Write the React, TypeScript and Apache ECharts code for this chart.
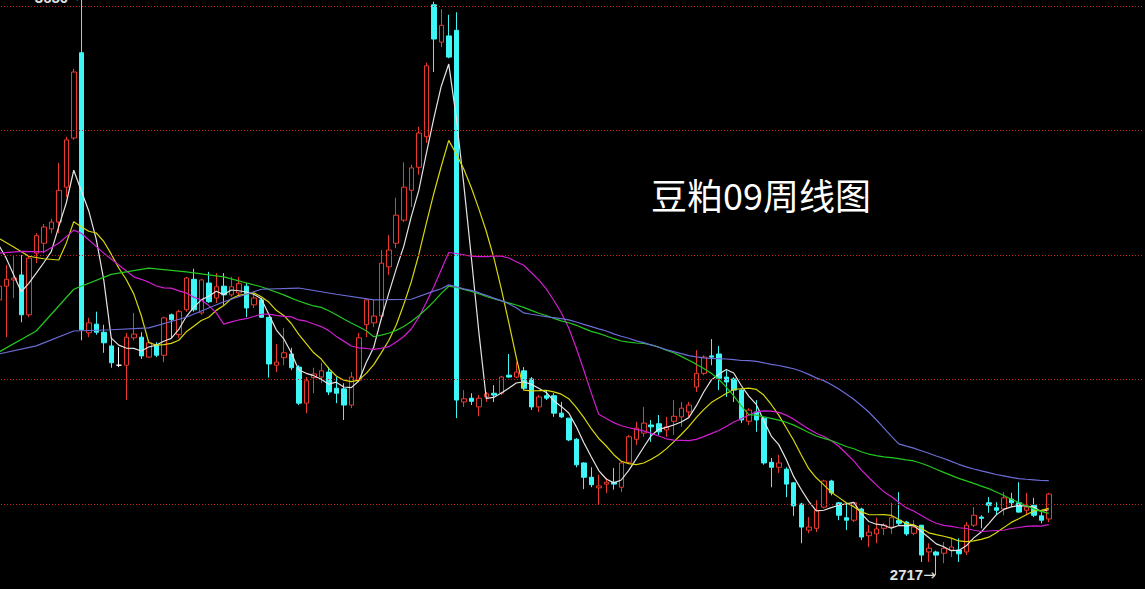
import React, { useEffect, useRef } from 'react';
import * as echarts from 'echarts';

// Weekly OHLC of the 豆粕09 chart (oldest → newest)
const opens = [
  3159, 3181, 3191, 3199, 3135, 3234, 3250, 3273, 3284, 3340, 3419, 3556, 3106, 3120, 3107, 3085, 3054, 3054, 3098, 3099,
  3067, 3087, 3070, 3135, 3103, 3143, 3192, 3138, 3186, 3162, 3181, 3167, 3170, 3181, 3151, 3159, 3131, 3054, 3066, 3072,
  3051, 2993, 3034, 3035, 3043, 3017, 3016, 2990, 3030, 3119, 3122, 3133, 3212, 3250, 3287, 3335, 3372, 3421, 3633, 3573,
  3583, 3592, 2995, 3001, 2987, 3003, 3009, 3009, 3038, 3035, 3045, 3032, 2987, 3005, 3005, 2977, 2969, 2935, 2897, 2874,
  2857, 2863, 2866, 2858, 2898, 2935, 2945, 2958, 2960, 2950, 2964, 2971, 2979, 3019, 3041, 3069, 3072, 3035, 3032, 3014,
  2964, 2979, 2969, 2898, 2890, 2887, 2865, 2831, 2789, 2792, 2826, 2868, 2833, 2809, 2805, 2823, 2780, 2783, 2792, 2794,
  2805, 2802, 2784, 2797, 2754, 2754, 2752, 2757, 2757, 2754, 2797, 2810, 2833, 2825, 2823, 2839, 2833, 2821, 2829, 2812,
  2807,
];
const closes = [
  3181, 3192, 3194, 3135, 3226, 3262, 3276, 3284, 3335, 3416, 3525, 3111, 3122, 3107, 3090, 3058, 3054, 3099, 3104, 3069,
  3090, 3070, 3130, 3127, 3140, 3194, 3143, 3191, 3156, 3180, 3167, 3180, 3185, 3146, 3162, 3131, 3056, 3059, 3074, 3050,
  2993, 3029, 3040, 3045, 3011, 3009, 2990, 3035, 3098, 3159, 3133, 3218, 3239, 3295, 3340, 3371, 3427, 3535, 3578, 3600,
  3549, 2998, 3000, 2996, 3001, 3008, 3006, 3035, 3035, 3043, 3017, 2987, 3003, 3001, 2977, 2971, 2934, 2894, 2874, 2862,
  2860, 2866, 2863, 2897, 2939, 2953, 2961, 2955, 2947, 2955, 2972, 2985, 2990, 3041, 3067, 3067, 3033, 3027, 3014, 2966,
  2982, 2966, 2897, 2890, 2897, 2863, 2828, 2794, 2794, 2821, 2868, 2849, 2813, 2805, 2833, 2778, 2786, 2791, 2797, 2809,
  2800, 2783, 2794, 2749, 2760, 2749, 2760, 2762, 2751, 2797, 2813, 2808, 2829, 2821, 2841, 2833, 2818, 2826, 2813, 2805,
  2847,
];
const lows = [
  3154, 3099, 3162, 3123, 3131, 3218, 3234, 3266, 3266, 3324, 3416, 3094, 3099, 3103, 3074, 3050, 3051, 2998, 3094, 3064,
  3066, 3067, 3059, 3098, 3098, 3140, 3140, 3135, 3154, 3154, 3151, 3164, 3164, 3131, 3146, 3130, 3034, 3043, 3054, 3046,
  2990, 2977, 3009, 3025, 3006, 2993, 2966, 2985, 3027, 3099, 3115, 3127, 3199, 3242, 3284, 3308, 3360, 3411, 3525, 3565,
  3547, 2969, 2987, 2990, 2972, 2995, 2995, 3006, 3034, 3033, 3014, 2982, 2979, 2998, 2971, 2969, 2932, 2890, 2855, 2858,
  2830, 2849, 2854, 2850, 2897, 2926, 2939, 2931, 2942, 2939, 2942, 2955, 2971, 3011, 3038, 3054, 3014, 3003, 2995, 2961,
  2958, 2947, 2894, 2858, 2881, 2842, 2812, 2768, 2784, 2786, 2824, 2845, 2805, 2789, 2802, 2773, 2762, 2768, 2781, 2783,
  2797, 2780, 2781, 2738, 2738, 2717, 2736, 2746, 2738, 2749, 2794, 2792, 2817, 2813, 2813, 2826, 2817, 2813, 2810, 2800,
  2802,
];
const highs = [
  3186, 3215, 3231, 3231, 3231, 3266, 3281, 3289, 3379, 3421, 3530, 3650, 3130, 3140, 3119, 3099, 3083, 3106, 3138, 3107,
  3094, 3091, 3132, 3137, 3143, 3196, 3209, 3193, 3204, 3202, 3202, 3196, 3196, 3186, 3170, 3162, 3131, 3088, 3114, 3082,
  3054, 3035, 3050, 3058, 3051, 3035, 3025, 3043, 3106, 3160, 3159, 3239, 3263, 3323, 3380, 3376, 3437, 3540, 3638, 3626,
  3617, 3621, 3014, 3009, 3006, 3011, 3022, 3037, 3072, 3059, 3051, 3035, 3006, 3014, 3009, 2995, 2969, 2937, 2898, 2890,
  2878, 2873, 2889, 2898, 2942, 2963, 2987, 2966, 2974, 2971, 2998, 2995, 2995, 3078, 3070, 3096, 3085, 3046, 3035, 3017,
  2985, 2998, 2971, 2905, 2910, 2890, 2866, 2833, 2810, 2837, 2870, 2870, 2834, 2833, 2834, 2825, 2797, 2809, 2800, 2833,
  2850, 2804, 2805, 2797, 2768, 2756, 2770, 2776, 2776, 2802, 2826, 2813, 2842, 2834, 2850, 2849, 2866, 2849, 2841, 2818,
  2849,
];
const weeks = closes.map((_, i) => `W${i + 1}`);

// Moving-average values before each window is complete: [weekIndex, value]
const ma5Lead: [number, number][] = [[0, 3247], [1, 3226], [2, 3199], [3, 3172]];
const ma10Lead: [number, number][] = [[0, 3258], [2, 3244], [4, 3229], [6, 3225], [8, 3223]];
const ma20Lead: [number, number][] = [
  [0, 3234], [3, 3237], [6, 3236], [8, 3250], [10, 3271], [11, 3266], [14, 3234], [16, 3215], [18, 3196],
];
const ma40Lead: [number, number][] = [
  [0, 3075], [5, 3109], [10, 3176], [15, 3200], [20, 3210], [25, 3204], [30, 3196], [35, 3180], [38, 3167],
];
const ma60Lead: [number, number][] = [
  [0, 3072], [5, 3085], [10, 3109], [15, 3111], [20, 3114], [25, 3131], [30, 3156], [35, 3176], [40, 3178],
  [45, 3168], [50, 3159], [55, 3160], [58, 3173],
];

// Dotted reference levels and chart title
const gridLevels = [2831, 3031, 3231, 3431, 3631];
const titleText = '豆粕09周线图';

function movingAverage(period: number, lead: [number, number][]) {
  const leadMap = new Map(lead);
  return closes.map((_, i) => {
    if (i < period - 1) return leadMap.has(i) ? leadMap.get(i)! : null;
    let s = 0;
    for (let k = i - period + 1; k <= i; k++) s += closes[k];
    return +(s / period).toFixed(1);
  });
}

const RED = '#ea3a30';
const CYAN = '#3ff6f6';
const SLOTS = 153;
const SHIFT = 5; // chart canvas starts this many px left of the page edge
const Y_MIN = 2694.5;
const Y_MAX = 3640.7;

export default function App() {
  const ref = useRef<HTMLDivElement>(null);
  useEffect(() => {
    const chart = echarts.init(ref.current!, null, { renderer: 'svg' });
    const cats = [...weeks];
    for (let i = weeks.length; i < SLOTS; i++) cats.push(`pad${i}`);
    const candleData = weeks.map((_, i) => [opens[i], closes[i], lows[i], highs[i]]);
    const hiIdx = highs.indexOf(Math.max(...highs));
    const maDefs = [
      { name: 'MA5', period: 5, lead: ma5Lead, color: '#e4e4e4' },
      { name: 'MA10', period: 10, lead: ma10Lead, color: '#d8d80c' },
      { name: 'MA20', period: 20, lead: ma20Lead, color: '#d21ed2' },
      { name: 'MA40', period: 40, lead: ma40Lead, color: '#22c81e' },
      { name: 'MA60', period: 60, lead: ma60Lead, color: '#6c6cd6' },
    ];
    const labelStyle = {
      show: true,
      position: 'left',
      distance: 0,
      formatter: (p: any) => `{n|${p.value}}{a|→}`,
      rich: {
        n: { color: '#e2e2e2', fontSize: 15, fontWeight: 'bold', fontFamily: 'Liberation Sans, Arial, sans-serif' },
        a: { color: '#e2e2e2', fontSize: 15, fontFamily: 'DejaVu Sans, sans-serif' },
      },
    };
    chart.setOption({
      animation: false,
      backgroundColor: '#000',
      title: {
        text: titleText,
        left: 651 + SHIFT,
        top: 176,
        padding: 0,
        textStyle: { color: '#ffffff', fontSize: 36, fontWeight: 'normal', fontFamily: 'Noto Sans CJK SC' },
      },
      grid: { left: 0, right: 2.5, top: 0, bottom: 0 },
      xAxis: {
        type: 'category',
        data: cats,
        boundaryGap: true,
        axisLine: { show: false },
        axisTick: { show: false },
        axisLabel: { show: false },
        splitLine: { show: false },
      },
      yAxis: {
        type: 'value',
        min: Y_MIN,
        max: Y_MAX,
        axisLine: { show: false },
        axisTick: { show: false },
        axisLabel: { show: false },
        splitLine: { show: false },
      },
      series: [
        {
          type: 'candlestick',
          name: '豆粕09',
          data: candleData,
          barWidth: 5,
          z: 2,
          itemStyle: {
            color: '#000',
            color0: CYAN,
            borderColor: RED,
            borderColor0: CYAN,
            borderColorDoji: '#ffffff',
            borderWidth: 1,
          },
          markLine: {
            silent: true,
            symbol: ['none', 'none'],
            label: { show: false },
            lineStyle: { color: '#c41e1e', type: [1, 2], width: 1 },
            data: gridLevels.map((v) => ({ yAxis: v })),
          },
          markPoint: {
            symbol: 'circle',
            symbolSize: 1,
            itemStyle: { color: 'rgba(0,0,0,0)' },
            label: labelStyle,
            data: [
              // the week high lies just above the visible top edge; its label sits at that edge
              { name: 'high', coord: [weeks[hiIdx], Y_MAX], value: highs[hiIdx], label: { ...labelStyle, offset: [0, -3] } },
              { type: 'min', valueDim: 'lowest' },
            ],
          },
        },
        ...maDefs.map((m) => ({
          type: 'line',
          name: m.name,
          data: movingAverage(m.period, m.lead),
          symbol: 'none',
          connectNulls: true,
          silent: true,
          z: 3,
          lineStyle: { color: m.color, width: 1.2 },
        })),
      ],
    });
    return () => chart.dispose();
  }, []);
  return (
    <div
      ref={ref}
      style={{
        position: 'fixed',
        left: -SHIFT,
        top: 0,
        width: 1145 + SHIFT,
        height: 589,
        background: '#000',
      }}
    />
  );
}
